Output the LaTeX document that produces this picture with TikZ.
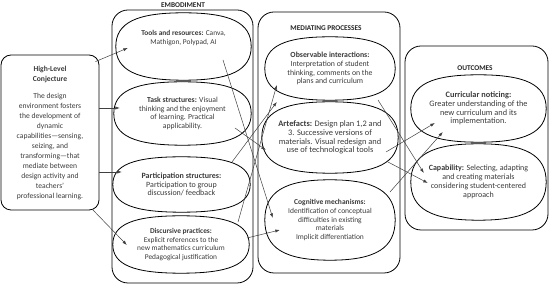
\documentclass[tikz,border=0pt]{standalone}
\usepackage{fontspec}
\setmainfont{Carlito}
\usepackage{xcolor}
\usetikzlibrary{arrows.meta,calc}

\definecolor{txtgrey}{HTML}{3A3A3A}

\tikzset{
  frame/.style={draw, line width=0.8pt, rounded corners=16pt, minimum width=#1},
  ebox/.style={align=center, inner sep=0pt, text=txtgrey, font=\fontsize{#1}{8.8}\selectfont},
  ebox/.default=7.4,
  ttl/.style={font=\fontsize{7.3}{8.6}\selectfont\bfseries, text=black!85},
  link/.style={-{Latex[length=4.5pt,width=3.2pt]}, draw=black!75, line width=0.5pt},
}

\begin{document}
\begin{tikzpicture}[x=1pt, y=-1pt]
    \useasboundingbox (0,0) rectangle (550,288);

    % high-level conjecture
    \node[draw, line width=0.8pt, rounded corners=10pt, minimum width=98pt, minimum height=155pt,
      align=center, inner sep=0pt, text=txtgrey, font=\fontsize{7.6}{10}\selectfont] (hl) at (50,132.5)
      {\textbf{High-Level}\\\textbf{Conjecture}\\[7pt]The design\\environment fosters\\the development of\\dynamic\\capabilities---sensing,\\seizing, and\\transforming---that\\mediate between\\design activity and\\teachers'\\professional learning.};

    % embodiment column
    \node[frame=141pt, minimum height=273pt] (emb) at (182.5,146.5) {};
    \node[ttl] (embtitle) at (183,5) {EMBODIMENT};
    \node[ebox, minimum width=135pt, minimum height=67pt, text depth=18pt] (tools) at (183.5,46.5)
      {\textbf{Tools and resources:} Canva,\\Mathigon, Polypad, AI};
    \node[ebox=7.7, minimum width=137pt, minimum height=63pt] (task) at (182.5,113.5)
      {\textbf{Task structures:} Visual\\thinking and the enjoyment\\of learning. Practical\\applicability.};
    \node[ebox=8, minimum width=137pt, minimum height=55pt] (part) at (181.5,184.5)
      {\textbf{Participation structures:}\\Participation to group\\discussion/ feedback};
    \node[ebox, minimum width=136pt, minimum height=57pt] (disc) at (181,244.5)
      {\textbf{Discursive practices:}\\Explicit references to the\\new mathematics curriculum\\Pedagogical justification};

    % mediating processes column
    \node[frame=142pt, minimum height=261pt] (med) at (329,142.5) {};
    \node[ttl] (medtitle) at (326,28) {MEDIATING PROCESSES};
    \node[ebox=7.8, minimum width=130pt, minimum height=63pt] (obs) at (330,68.5)
      {\textbf{Observable interactions:}\\Interpretation of student\\thinking, comments on the\\plans and curriculum};
    \node[ebox=8.4, minimum width=136pt, minimum height=71pt] (art) at (330,137.5)
      {\textbf{Artefacts:} Design plan 1,2 and\\3. Successive versions of\\materials. Visual redesign and\\use of technological tools};
    \node[ebox=7.5, minimum width=130pt, minimum height=80pt] (cog) at (330,220)
      {\textbf{Cognitive mechanisms:}\\Identification of conceptual\\difficulties in existing\\materials\\Implicit differentiation};

    % outcomes column
    \node[frame=143pt, minimum height=184pt] (out) at (476.5,138) {};
    \node[ttl] (outtitle) at (475,68) {OUTCOMES};
    \node[ebox=8.3, minimum width=135pt, minimum height=67pt] (cur) at (478.5,108.5)
      {\textbf{Curricular noticing:}\\Greater understanding of the\\new curriculum and its\\implementation.};
    \node[ebox=8, minimum width=135pt, minimum height=76pt] (cap) at (478.5,182)
      {\textbf{Capability:} Selecting, adapting\\and creating materials\\considering student-centered\\approach};

    % rounded outlines round the component nodes
    \foreach \n in {tools,task,part,disc,obs,art,cog,cur,cap}
      \draw[line width=0.8pt]
        (\n.west) .. controls ($(\n.west)!0.7!(\n.north west)$) and ($(\n.north)!0.7!(\n.north west)$) .. (\n.north)
        .. controls ($(\n.north)!0.7!(\n.north east)$) and ($(\n.east)!0.7!(\n.north east)$) .. (\n.east)
        .. controls ($(\n.east)!0.7!(\n.south east)$) and ($(\n.south)!0.7!(\n.south east)$) .. (\n.south)
        .. controls ($(\n.south)!0.7!(\n.south west)$) and ($(\n.west)!0.7!(\n.south west)$) .. cycle;

    % conjecture -> embodiment
    \draw[link] ($(hl.north east)+(-4,7)$) -- ($(tools.west)+(12,1.5)$);
    \draw[link] ($(hl.east)+(0,-24.5)$) -- ($(task.west)+(6,-5.5)$);
    \draw[link] ($(hl.east)+(0,39.5)$) -- ($(part.west)+(9,-12.5)$);
    \draw[link] ($(hl.south east)+(-7,-1)$) -- ($(disc.west)+(14,0.5)$);

    % embodiment -> mediating processes
    \draw[link] ($(tools.center)+(39.5,13.5)$) -- ($(cog.west)+(8,-2)$);
    \draw[link] ($(task.center)+(52.5,14.5)$) -- ($(art.west)+(4,12.5)$);
    \draw[link] ($(part.center)+(50.5,-22.5)$) -- ($(obs.west)+(12,33.5)$);
    \draw[link] ($(disc.center)+(57,-22.5)$) -- ($(obs.west)+(12,16.5)$);
    \draw[link] ($(disc.center)+(66,-6.5)$) -- ($(cog.west)+(15,10)$);

    % mediating processes -> outcomes
    \draw[link] ($(obs.center)+(48,31.5)$) -- ($(cap.west)+(13,-9)$);
    \draw[link] ($(art.center)+(58,24.5)$) -- ($(cap.west)+(17,1)$);
    \draw[link] ($(art.center)+(56,14.5)$) -- ($(cur.west)+(24,14.5)$);
    \draw[link] ($(cog.center)+(60,-28)$) -- ($(cur.west)+(32,23.5)$);
\end{tikzpicture}
\end{document}
